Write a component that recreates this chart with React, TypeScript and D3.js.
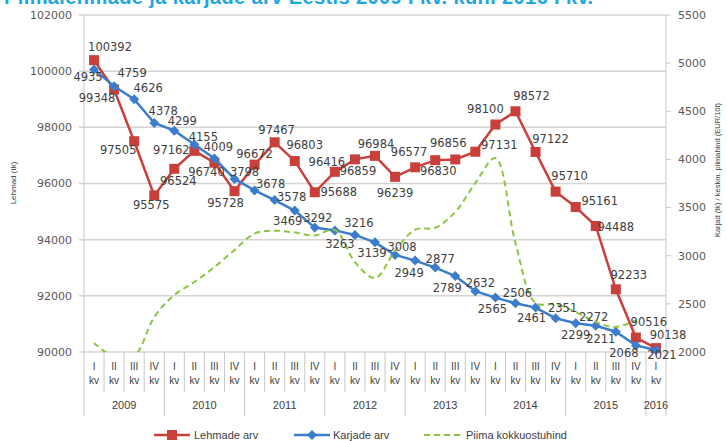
import * as d3 from "d3";

// quarters 2009 I kv ... 2016 I kv
const yearLabels = ["2009", "2010", "2011", "2012", "2013", "2014", "2015", "2016"];
const quartersPerYear = [4, 4, 4, 4, 4, 4, 4, 1];
const quarterNames = ["I", "II", "III", "IV"];

const cows = [
  100392, 99348, 97505, 95575,
  96524, 97162, 96740, 95728,
  96672, 97467, 96803, 95688,
  96416, 96859, 96984, 96239,
  96577, 96830, 96856, 97131,
  98100, 98572, 97122, 95710,
  95161, 94488, 92233, 90516,
  90138,
];

const herds = [
  4935, 4759, 4626, 4378,
  4299, 4155, 4009, 3798,
  3678, 3578, 3469, 3292,
  3263, 3216, 3139, 3008,
  2949, 2877, 2789, 2632,
  2565, 2506, 2461, 2351,
  2299, 2272, 2211, 2068,
  2021,
];

// milk purchase price (EUR/10t), ends 2015 IV
const milkPrice = [
  2093, 1950, 1960, 2363,
  2592, 2727, 2883, 3060,
  3230, 3260, 3240, 3210,
  3267, 2935, 2768, 3050,
  3270, 3290, 3454, 3755,
  4015, 3132, 2509, 2498,
  2415, 2311, 2260, 2330,
  null,
];

const leftTicks = [90000, 92000, 94000, 96000, 98000, 100000, 102000];
const rightTicks = [2000, 2500, 3000, 3500, 4000, 4500, 5000, 5500];

// label offsets (px) from each point
const cowLabelOff = [
  [16, -13], [-17, 8], [-16, 9], [-3, 10], [4, 12], [-23, -1], [-8, 9], [-9, 12],
  [0, -11], [2, -12], [10, -16], [24, 0], [-8, -10], [3, 12], [1, -12], [0, 16],
  [-6, -15], [3, 11], [-7, -16], [24, -7], [-10, -16], [16, -15], [15, -13], [14, -16],
  [24, -6], [20, 1], [13, -14], [13, -16], [12, -13],
];
const herdLabelOff = [
  [-6, 8], [18, -13], [14, -11], [9, -12], [8, -10], [9, -8], [4, -12], [10, -7],
  [16, -6], [17, -3], [-7, 10], [3, -10], [5, 14], [4, -12], [-3, 11], [7, -8],
  [-6, 12], [5, -9], [-8, 12], [5, -8], [-3, 11], [2, -10], [-4, 10], [7, -10],
  [0, 12], [-2, -9], [-15, 7], [-12, 8], [6, 5],
];

const W = 727, H = 441;
const left = 84, right = 666, top = 15, bottom = 352;
const RED = "#c9403b", BLUE = "#3b7dcc", GREEN = "#8dc440";
const FONT = "'DejaVu Sans', sans-serif";
const FONT2 = "'Liberation Sans', Arial, sans-serif";

export default function App() {
  const quarters: string[] = [];
  const yearStart: number[] = [];
  quartersPerYear.forEach((n) => {
    yearStart.push(quarters.length);
    for (let q = 0; q < n; q++) quarters.push(quarterNames[q]);
  });
  const idx = quarters.map((_, i) => i);

  const x = d3.scaleBand<number>().domain(idx).range([left, right]).padding(0);
  const bw = x.bandwidth();
  const cx = (i: number) => (x(i) as number) + bw / 2;
  const yL = d3.scaleLinear().domain([90000, 102000]).range([bottom, top]);
  const yR = d3.scaleLinear().domain([2000, 5500]).range([bottom, top]);

  const cowLine = d3.line<number>().x((_, i) => cx(i)).y((d) => yL(d));
  const herdLine = d3.line<number>().x((_, i) => cx(i)).y((d) => yR(d));
  const priceLine = d3
    .line<number | null>()
    .defined((d) => d != null)
    .x((_, i) => cx(i))
    .y((d) => yR(d as number))
    .curve(d3.curveCatmullRom.alpha(0.5));

  const diamond = (px: number, py: number, r: number) =>
    `M${px},${py - r}L${px + r},${py}L${px},${py + r}L${px - r},${py}Z`;

  return (
    <svg width={W} height={H} style={{ position: "absolute", left: 0, top: 0, background: "#fff" }}>
      <defs>
        <clipPath id="plot">
          <rect x={left} y={top} width={right - left} height={bottom - top} />
        </clipPath>
      </defs>

      <text x={4} y={4} fontFamily={FONT2} fontWeight="bold" fontSize={20} letterSpacing={0.4} fill="#1ca6e3">
        Piimalehmade ja karjade arv Eestis 2009 I kv. kuni 2016 I kv.
      </text>

      {/* gridlines */}
      {leftTicks.map((t) => (
        <line key={t} x1={left - 5} x2={right} y1={yL(t)} y2={yL(t)} stroke="#d4d4d4" strokeWidth={1.5} />
      ))}
      <line x1={left} x2={left} y1={top} y2={bottom} stroke="#c8c8c8" />
      <line x1={right} x2={right} y1={top} y2={bottom} stroke="#c8c8c8" />
      {rightTicks.map((t) => (
        <line key={t} x1={right} x2={right + 5} y1={yR(t)} y2={yR(t)} stroke="#c8c8c8" />
      ))}

      {/* tick labels */}
      {leftTicks.map((t) => (
        <text key={t} x={72} y={yL(t)} dy="0.35em" textAnchor="end" fontFamily={FONT} fontSize={11} fill="#595959">
          {t}
        </text>
      ))}
      {rightTicks.map((t) => (
        <text key={t} x={678} y={yR(t)} dy="0.35em" fontFamily={FONT} fontSize={11} fill="#595959">
          {t}
        </text>
      ))}

      <text transform={`translate(16,${183}) rotate(-90)`} textAnchor="middle" fontFamily={FONT2} fontSize={8} fill="#404040">
        Lehmad (tk)
      </text>
      <text transform={`translate(720,${170}) rotate(-90)`} textAnchor="middle" fontFamily={FONT2} fontSize={7.5} fill="#404040">
        Karjad (tk) / keskm. piimahind (EUR/10t)
      </text>

      {/* category axis */}
      {idx.map((i) => (
        <line key={"q" + i} x1={x(i)} x2={x(i)} y1={bottom} y2={yearStart.includes(i) ? 416 : 392} stroke="#c8c8c8" />
      ))}
      <line x1={right} x2={right} y1={bottom} y2={416} stroke="#c8c8c8" />
      {quarters.map((q, i) => (
        <g key={"ql" + i} fontFamily={FONT2} fontSize={10} fill="#404040" textAnchor="middle">
          <text x={cx(i)} y={370}>{q}</text>
          <text x={cx(i)} y={384}>kv</text>
        </g>
      ))}
      {yearLabels.map((yr, k) => {
        const s = yearStart[k];
        const e = s + quartersPerYear[k];
        const mid = ((x(s) as number) + (x(e - 1) as number) + bw) / 2;
        return (
          <text key={yr} x={mid} y={409} textAnchor="middle" fontFamily={FONT2} fontSize={11} fill="#404040">
            {yr}
          </text>
        );
      })}

      {/* series */}
      <path d={cowLine(cows) as string} fill="none" stroke={RED} strokeWidth={2.5} />
      {cows.map((v, i) => (
        <rect key={"c" + i} x={cx(i) - 5} y={yL(v) - 5} width={10} height={10} fill={RED} />
      ))}
      <path d={herdLine(herds) as string} fill="none" stroke={BLUE} strokeWidth={2.5} />
      {herds.map((v, i) => (
        <path key={"h" + i} d={diamond(cx(i), yR(v), 5)} fill={BLUE} />
      ))}
      <path
        d={priceLine(milkPrice) as string}
        fill="none"
        stroke={GREEN}
        strokeWidth={2}
        strokeDasharray="6,4"
        clipPath="url(#plot)"
      />

      {/* data labels */}
      {cows.map((v, i) => (
        <text
          key={"cl" + i}
          x={cx(i) + cowLabelOff[i][0]}
          y={yL(v) + cowLabelOff[i][1]}
          dy="0.35em"
          textAnchor="middle"
          fontFamily={FONT}
          fontSize={11.5}
          fill="#404040"
        >
          {v}
        </text>
      ))}
      {herds.map((v, i) => (
        <text
          key={"hl" + i}
          x={cx(i) + herdLabelOff[i][0]}
          y={yR(v) + herdLabelOff[i][1]}
          dy="0.35em"
          textAnchor="middle"
          fontFamily={FONT}
          fontSize={11.5}
          fill="#404040"
        >
          {v}
        </text>
      ))}

      {/* legend */}
      <g fontFamily={FONT2} fontSize={11} fill="#404040">
        <line x1={154} x2={190} y1={435} y2={435} stroke={RED} strokeWidth={2.5} />
        <rect x={167} y={430} width={10} height={10} fill={RED} />
        <text x={194} y={435} dy="0.35em">Lehmade arv</text>
        <line x1={294} x2={330} y1={435} y2={435} stroke={BLUE} strokeWidth={2.5} />
        <path d={diamond(312, 435, 5)} fill={BLUE} />
        <text x={333} y={435} dy="0.35em">Karjade arv</text>
        <line x1={424} x2={463} y1={435} y2={435} stroke={GREEN} strokeWidth={2} strokeDasharray="6,4" />
        <text x={466} y={435} dy="0.35em">Piima kokkuostuhind</text>
      </g>
    </svg>
  );
}
